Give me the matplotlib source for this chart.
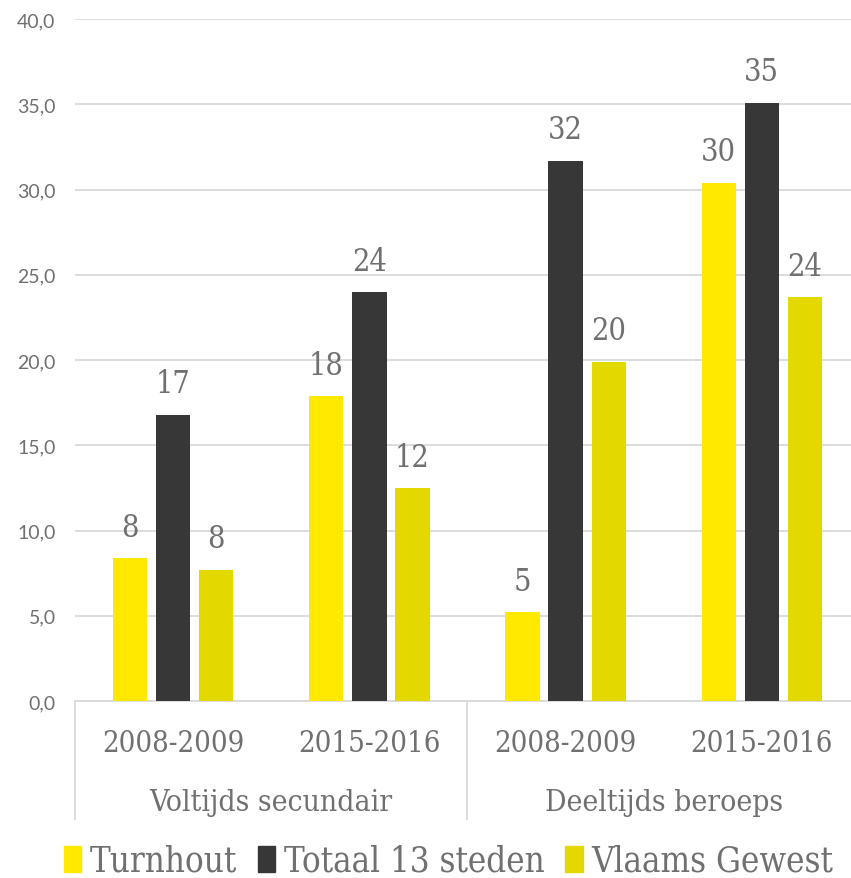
import matplotlib
matplotlib.use("Agg")
import matplotlib.pyplot as plt
import numpy as np
from matplotlib.patches import Patch
import matplotlib.transforms as mtransforms

years = ["2008-2009", "2015-2016", "2008-2009", "2015-2016"]
groups = ["Voltijds secundair", "Deeltijds beroeps"]
series_names = ["Turnhout", "Totaal 13 steden", "Vlaams Gewest"]
turnhout = [8.4, 17.9, 5.2, 30.4]
totaal = [16.8, 24.0, 31.7, 35.1]
vlaams = [7.7, 12.5, 19.9, 23.7]
colors = ["#FFE900", "#373737", "#E3D900"]

grey = "#707070"
serif = ["DejaVu Serif"]
fig = plt.figure(figsize=(8.51, 8.79), dpi=100)
ax = fig.add_axes([75/851, 1-702/879, (860-75)/851, (702-20)/879])

x = np.arange(len(years))
step = 0.22
width = 0.175
for i, (vals, c) in enumerate(zip([turnhout, totaal, vlaams], colors)):
    bars = ax.bar(x + (i-1)*step, vals, width, color=c, zorder=3, label=series_names[i])
    for b, v in zip(bars, vals):
        ax.annotate(f"{v:.0f}", (b.get_x()+b.get_width()/2, v), xytext=(0, 11),
                    textcoords="offset points", ha="center", va="bottom",
                    fontsize=22, color=grey, family=serif, stretch="condensed")

ax.set_xlim(-0.5, 3.5)
ax.set_ylim(0, 40)
ax.set_yticks(np.arange(0, 41, 5))
ax.set_yticklabels([f"{v:.1f}".replace(".", ",") for v in np.arange(0, 41, 5)],
                   fontsize=14, color=grey, family=["Lato"])
ax.yaxis.grid(True, color="#D9D9D9", lw=1.3, zorder=0)
for s in ["top", "right", "left"]:
    ax.spines[s].set_visible(False)
ax.spines["bottom"].set_color("#D9D9D9")
ax.spines["bottom"].set_linewidth(1.3)
ax.tick_params(axis="y", length=0, pad=14)
ax.tick_params(axis="x", length=0, pad=20)
ax.set_xticks(x)
ax.set_xticklabels(years, fontsize=21, color=grey, family=serif, stretch="condensed")

trans = mtransforms.blended_transform_factory(ax.transData, ax.transAxes)
for xs in [-0.5, 1.5, 3.5]:
    ax.plot([xs, xs], [0, -118/682], transform=trans, color="#D9D9D9", lw=1.3, clip_on=False)
for gi, g in enumerate(groups):
    ax.text(0.5 + 2*gi, -(803-702)/682, g, transform=trans, ha="center", va="center",
            fontsize=21.5, color=grey, family=serif, stretch="condensed")

handles = [Patch(color=c) for c in colors]
fig.legend(handles, series_names, loc="center", bbox_to_anchor=(0.527, 1-862/879), ncol=3,
           frameon=False, handlelength=0.5, handleheight=0.75, handletextpad=0.25,
           columnspacing=0.6, prop={"family": serif, "size": 25, "stretch": "condensed"},
           labelcolor=grey, borderpad=0)

fig.savefig("out.png", dpi=100)
